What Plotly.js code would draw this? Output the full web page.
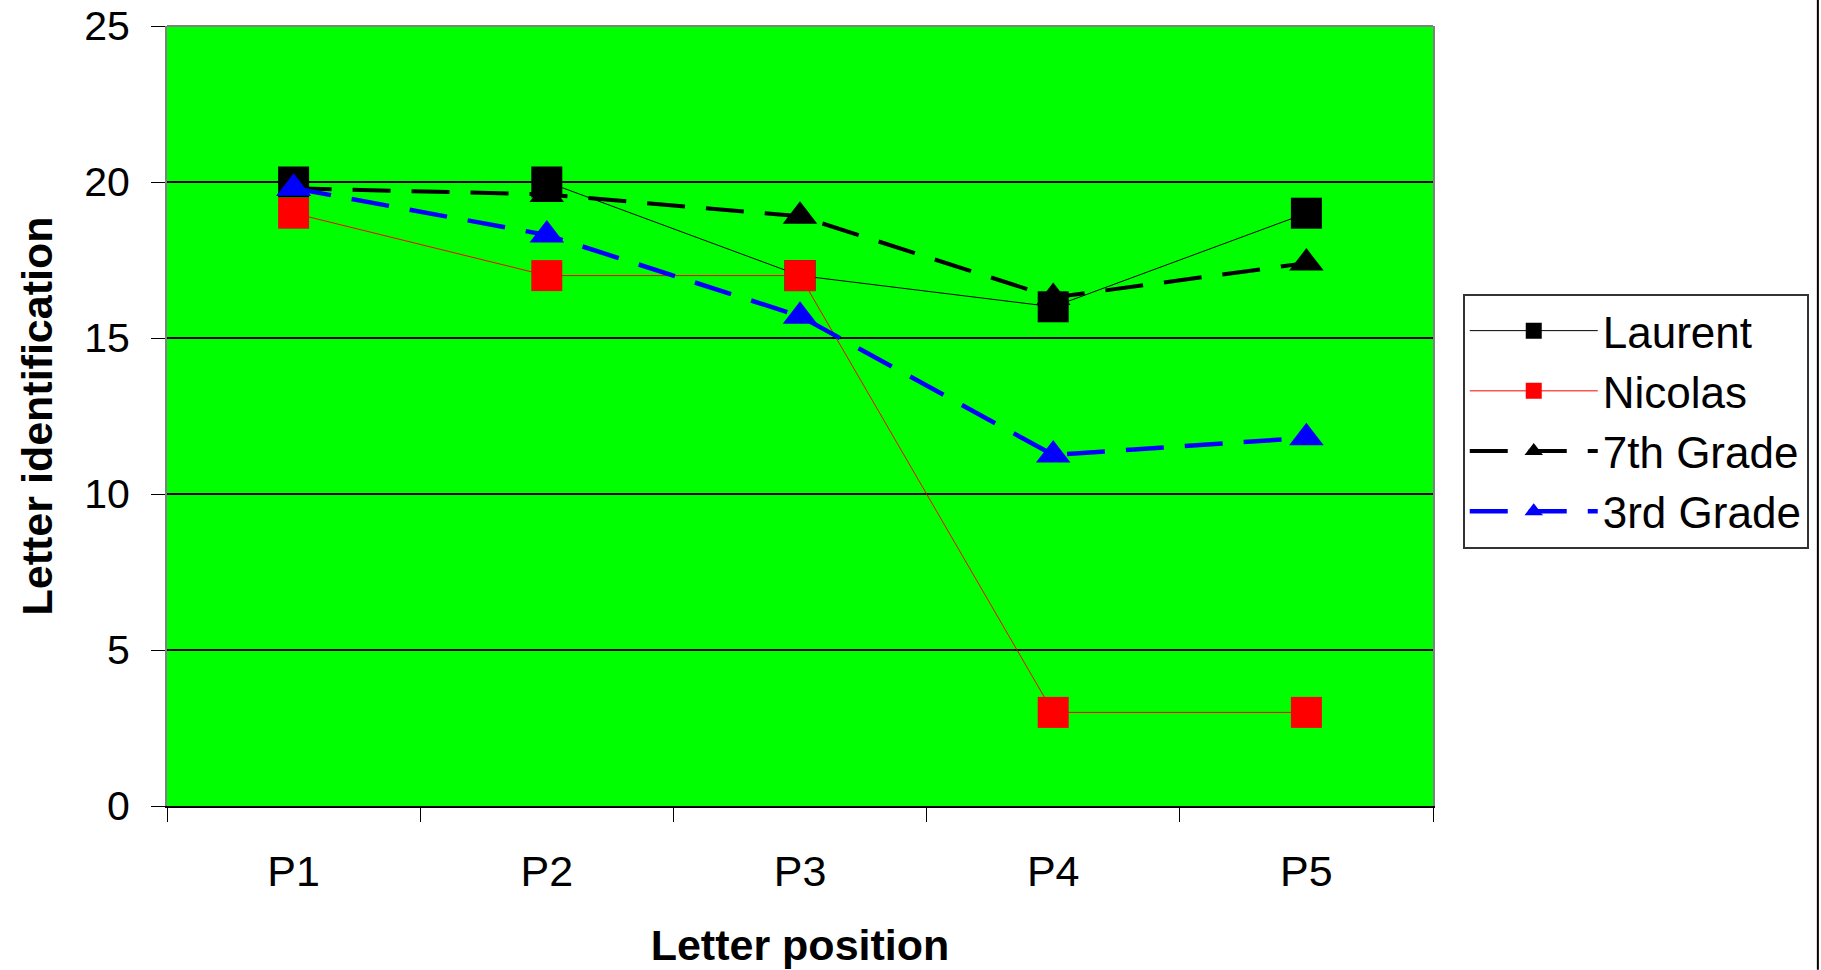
<!DOCTYPE html>
<html>
<head>
<meta charset="utf-8">
<script src="https://cdn.plot.ly/plotly-3.0.1.min.js"></script>
<style>html,body{margin:0;padding:0;background:#fff;}#chart{width:1821px;height:970px;}</style>
</head>
<body>
<div id="chart"></div>
<script>
const categories = ["P1", "P2", "P3", "P4", "P5"];
const laurent   = [20, 20, 17, 16, 19];
const nicolas   = [19, 17, 17, 3, 3];
const grade7    = [19.8, 19.6, 18.9, 16.3, 17.4];
const grade3    = [19.8, 18.3, 15.7, 11.25, 11.8];
const seriesNames = ["Laurent", "Nicolas", "7th Grade", "3rd Grade"];
const yTicks = [0, 5, 10, 15, 20, 25];

const FONT = "Liberation Sans, Arial, sans-serif";

const traces = [
  {x: categories, y: laurent, name: seriesNames[0], type: "scatter", mode: "lines+markers",
   line: {color: "#000000", width: 1},
   marker: {symbol: "square", size: 31, color: "#000000"}},
  {x: categories, y: nicolas, name: seriesNames[1], type: "scatter", mode: "lines+markers",
   line: {color: "#FF0000", width: 1},
   marker: {symbol: "square", size: 31, color: "#FF0000"}},
  {x: categories, y: grade7, name: seriesNames[2], type: "scatter", mode: "lines+markers",
   line: {color: "#000000", width: 4, dash: "38px,21px"},
   marker: {symbol: "triangle-up", size: 30, color: "#000000"}},
  {x: categories, y: grade3, name: seriesNames[3], type: "scatter", mode: "lines+markers",
   line: {color: "#0000FF", width: 4.5, dash: "38px,21px"},
   marker: {symbol: "triangle-up", size: 30, color: "#0000FF"}}
];

const layout = {
  width: 1821, height: 970,
  margin: {l: 167, r: 388, t: 26, b: 164},
  paper_bgcolor: "#FFFFFF",
  plot_bgcolor: "#00FF00",
  font: {family: FONT, size: 43, color: "#000000"},
  showlegend: true,
  legend: {
    x: 1.0235, y: 0.657, xanchor: "left", yanchor: "top",
    bgcolor: "#FFFFFF", bordercolor: "#333333", borderwidth: 2,
    font: {family: FONT, size: 44, color: "#000000"},
    itemwidth: 128, itemsizing: "trace", tracegroupgap: 0
  },
  xaxis: {
    type: "category", categoryorder: "array", categoryarray: categories,
    range: [-0.5, 4.5], tickson: "boundaries",
    ticks: "outside", ticklen: 14, tickwidth: 1, tickcolor: "#000000",
    showline: true, linecolor: "#000000", linewidth: 2, mirror: false,
    showgrid: false, zeroline: false,
    tickfont: {family: FONT, size: 43},
    ticklabelstandoff: 26,
    title: {text: "<b>Letter position</b>", font: {family: FONT, size: 43}, standoff: 36},
    automargin: false, fixedrange: true
  },
  yaxis: {
    range: [0, 25], tickvals: yTicks, ticktext: yTicks.map(String),
    ticks: "outside", ticklen: 14, tickwidth: 1, tickcolor: "#000000",
    showline: true, linecolor: "#808080", linewidth: 2, mirror: true,
    showgrid: true, gridcolor: "#000000", gridwidth: 1.5,
    zeroline: false,
    tickfont: {family: FONT, size: 41},
    ticklabelstandoff: 13, ticklabeloverflow: "allow",
    title: {text: "<b>Letter identification</b>", font: {family: FONT, size: 43}, standoff: 18},
    automargin: false, fixedrange: true
  },
  shapes: [
    {type: "line", xref: "paper", yref: "paper", x0: 0, x1: 1, y0: 1, y1: 1,
     line: {color: "#808080", width: 2}, layer: "above"},
    {type: "line", xref: "paper", yref: "paper", x0: 1.304, x1: 1.304, y0: -0.21, y1: 1.034,
     line: {color: "#000000", width: 2}, layer: "above"}
  ]
};

Plotly.newPlot("chart", traces, layout, {displayModeBar: false, staticPlot: true});
</script>
</body>
</html>
